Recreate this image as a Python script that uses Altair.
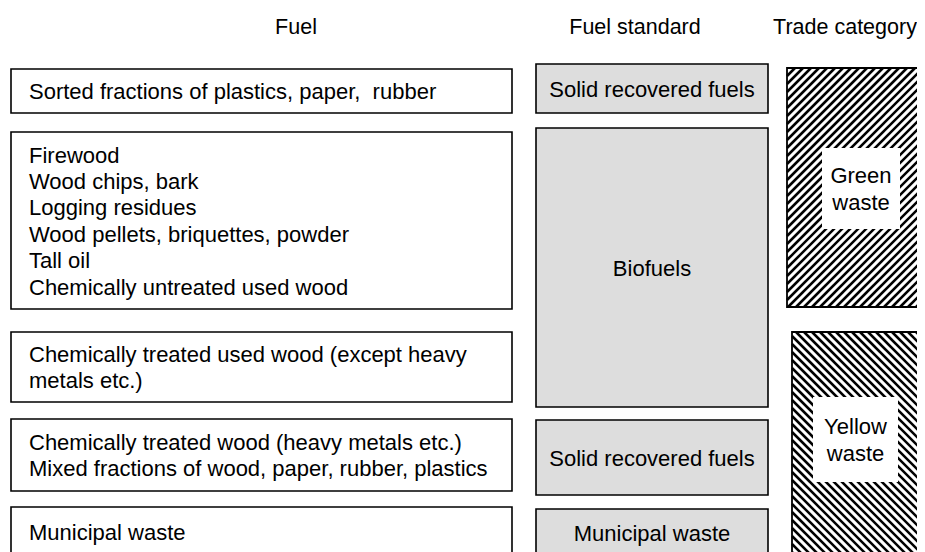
import altair as alt
import pandas as pd

# ---------------- text content ----------------
headers = ["Fuel", "Fuel standard", "Trade category"]
fuel_texts = [
    ["Sorted fractions of plastics, paper,\u00a0 rubber"],
    ["Firewood", "Wood chips, bark", "Logging residues",
     "Wood pellets, briquettes, powder", "Tall oil", "Chemically untreated used wood"],
    ["Chemically treated used wood (except heavy", "metals etc.)"],
    ["Chemically treated wood (heavy metals etc.)", "Mixed fractions of wood, paper, rubber, plastics"],
    ["Municipal waste"],
]
standard_texts = [["Solid recovered fuels"], ["Biofuels"], ["Solid recovered fuels"], ["Municipal waste"]]
trade_texts = [["Green", "waste"], ["Yellow", "waste"]]
trade_hatch = ["/", "\\"]

# ---------------- layout (page pixels) ----------------
W, H = 909, 544
fuel_x = (11, 512)
fuel_y = [(69, 113), (132, 309), (332, 402), (419, 491), (507, 556)]
fuel_text_x = 29
std_x = (536, 768)
std_y = [(64, 113), (128, 407), (420, 495), (509, 557)]
trade_boxes = [(787, 919, 68, 307), (792, 940, 332, 580)]
trade_label_boxes = [(822, 900, 148, 229), (813, 898, 397, 482)]
header_pos = [(296, 28), (635, 28), (845, 28)]
FS = 22
FS_HEAD = 21.5
LH = 26.4
FONT = "Liberation Sans, Arial, Helvetica, sans-serif"
GREY = "#dddddd"
HATCH_STEP = 8

xs = alt.Scale(domain=[8, 8 + W], range=[0, W], nice=False, zero=False)
ys = alt.Scale(domain=[8, 8 + H], reverse=True, nice=False, zero=False)


def X(f="x"):
    return alt.X(f"{f}:Q", scale=xs, axis=None)


def Y(f="y"):
    return alt.Y(f"{f}:Q", scale=ys, axis=None)


def first_line_y(a, b, n):
    # vertical centre of the box, shifted up so that the n-line block is centred
    return (a + b) / 2 + 1 - (n - 1) * LH / 2


# ---------------- tables ----------------
fuel_boxes = pd.DataFrame([
    {"x": fuel_x[0], "x2": fuel_x[1], "y": a, "y2": b,
     "tx": fuel_text_x, "ty": first_line_y(a, b, len(t)), "label": "\n".join(t)}
    for (a, b), t in zip(fuel_y, fuel_texts)
])
std_boxes = pd.DataFrame([
    {"x": std_x[0], "x2": std_x[1], "y": a, "y2": b,
     "tx": (std_x[0] + std_x[1]) / 2, "ty": first_line_y(a, b, len(t)), "label": "\n".join(t)}
    for (a, b), t in zip(std_y, standard_texts)
])
trade_df = pd.DataFrame([
    {"x": b[0], "x2": b[1], "y": b[2], "y2": b[3]} for b in trade_boxes
])
label_df = pd.DataFrame([
    {"x": b[0], "x2": b[1], "y": b[2], "y2": b[3],
     "tx": (b[0] + b[1]) / 2, "ty": first_line_y(b[2], b[3], len(t)), "label": "\n".join(t)}
    for b, t in zip(trade_label_boxes, trade_texts)
])
header_df = pd.DataFrame([
    {"tx": p[0], "ty": p[1], "label": h} for p, h in zip(header_pos, headers)
])


def hatch(x0, x1, y0, y1, direction, step):
    segs = []
    if direction == "/":
        c = x0 + y0
        while c <= x1 + y1:
            xa, xb = max(x0, c - y1), min(x1, c - y0)
            if xb > xa:
                segs.append({"x": xa, "y": c - xa, "x2": xb, "y2": c - xb})
            c += step
    else:
        c = y0 - x1
        while c <= y1 - x0:
            xa, xb = max(x0, y0 - c), min(x1, y1 - c)
            if xb > xa:
                segs.append({"x": xa, "y": xa + c, "x2": xb, "y2": xb + c})
            c += step
    return segs


hatch_rows = []
for b, d in zip(trade_boxes, trade_hatch):
    hatch_rows += hatch(b[0], b[1], b[2], b[3], d, HATCH_STEP)
hatch_df = pd.DataFrame(hatch_rows)

# ---------------- layers ----------------
fuel_rect = alt.Chart(fuel_boxes).mark_rect(
    fill="white", stroke="black", strokeWidth=1.6
).encode(x=X(), x2="x2:Q", y=Y(), y2="y2:Q")

std_rect = alt.Chart(std_boxes).mark_rect(
    fill=GREY, stroke="black", strokeWidth=1.6
).encode(x=X(), x2="x2:Q", y=Y(), y2="y2:Q")

trade_bg = alt.Chart(trade_df).mark_rect(fill="white").encode(
    x=X(), x2="x2:Q", y=Y(), y2="y2:Q")

hatch_lines = alt.Chart(hatch_df).mark_rule(
    color="black", strokeWidth=2.5, strokeCap="butt"
).encode(x=X(), x2="x2:Q", y=Y(), y2="y2:Q")

trade_border = alt.Chart(trade_df).mark_rect(
    fill=None, fillOpacity=0, stroke="black", strokeWidth=1.8
).encode(x=X(), x2="x2:Q", y=Y(), y2="y2:Q")

label_rect = alt.Chart(label_df).mark_rect(fill="white").encode(
    x=X(), x2="x2:Q", y=Y(), y2="y2:Q")


def texts(df, align, size=FS):
    return alt.Chart(df).mark_text(
        align=align, baseline="middle", font=FONT, fontSize=size,
        lineHeight=LH, lineBreak="\n", color="black"
    ).encode(x=X("tx"), y=Y("ty"), text="label:N")


chart = alt.layer(
    fuel_rect, std_rect, trade_bg, hatch_lines, trade_border, label_rect,
    texts(fuel_boxes, "left"), texts(std_boxes, "center"),
    texts(label_df, "center"), texts(header_df, "center", FS_HEAD),
).properties(
    width=W, height=H, padding=0, autosize=alt.AutoSizeParams(type="none"),
    background="white"
).configure_view(stroke=None)

chart.save("out.html", embed_options={"renderer": "svg", "actions": False})
